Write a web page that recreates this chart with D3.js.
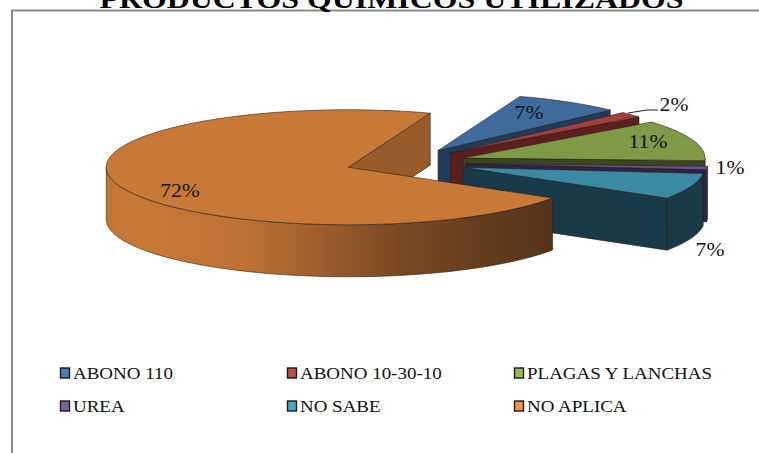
<!DOCTYPE html>
<html>
<head>
<meta charset="utf-8">
<script src="https://cdn.jsdelivr.net/npm/d3@7"></script>
<style>
  html, body { margin: 0; padding: 0; background: #fff; overflow: hidden; }
  text { font-family: "Liberation Serif", serif; fill: #111; }
</style>
</head>
<body>
<svg id="chart" width="759" height="453"></svg>
<script>
const categories = ["ABONO 110", "ABONO 10-30-10", "PLAGAS Y LANCHAS", "UREA", "NO SABE", "NO APLICA"];
const shares = [7.1, 1.6, 11.5, 1.0, 7.3, 71.5];
const shownLabels = ["7%", "2%", "11%", "1%", "7%", "72%"];
const topColors = ["#3f6b9c", "#a23f3c", "#7f9a46", "#69508f", "#3b8aa3", "#c87937"];
const sideColors = ["#1f3b5c", "#5c1f1f", "#3a4620", "#2e2245", "#193a48", "#9a5b2a"];
const legendColors = ["#4a7ebb", "#be4b48", "#98b954", "#7d60a0", "#46aac5", "#f59240"];

const svg = d3.select("#chart");

const centerX = 405.5;
const centerY = 162.6;
const depth = 52;
const explode = 0.25;
const firstAngle = (19.8 * Math.PI) / 180;

const xScale = d3.scaleLinear().domain([-1, 1]).range([-242, 242]);
const yScale = d3.scaleLinear().domain([-1, 1]).range([-57.5, 57.5]);

const slices = d3
  .pie()
  .sort(null)
  .startAngle(firstAngle)
  .endAngle(firstAngle + 2 * Math.PI)(shares);

// flat ellipse position for an angle, measured clockwise from the top
const rim = (a, k = 1) => [
  xScale(k * Math.sin(a)),
  yScale(-k * Math.cos(a)),
];

const line = d3.line();

function arcPoints(a0, a1, apex, drop = 0) {
  const n = Math.max(2, Math.ceil((a1 - a0) * 40));
  return d3.range(n + 1).map((i) => {
    const p = rim(a0 + ((a1 - a0) * i) / n);
    return [apex[0] + p[0], apex[1] + p[1] + drop];
  });
}

const defs = svg.append("defs");
const wallGradient = defs
  .append("linearGradient")
  .attr("id", "orange-wall")
  .attr("gradientUnits", "userSpaceOnUse")
  .attr("x1", 106)
  .attr("x2", 553)
  .attr("y1", 0)
  .attr("y2", 0);
[
  [0, "#c27434"],
  [0.06, "#c87937"],
  [0.32, "#bd7135"],
  [0.5, "#9a5b2b"],
  [0.66, "#784823"],
  [1, "#54331a"],
].forEach(([o, c]) => {
  wallGradient.append("stop").attr("offset", o).attr("stop-color", c);
});

const edge = "#2b2118";
const pieGroup = svg.append("g");

slices.forEach((d, i) => {
  const mid = (d.startAngle + d.endAngle) / 2;
  const shift = rim(mid, explode);
  const apex = [centerX + shift[0], centerY + shift[1]];
  const g = pieGroup.append("g").attr("class", "slice");

  // cut face on the closing side of the slice
  const endRim = arcPoints(d.endAngle, d.endAngle, apex)[0];
  g.append("path")
    .attr(
      "d",
      line([apex, endRim, [endRim[0], endRim[1] + depth], [apex[0], apex[1] + depth]]) + "Z"
    )
    .attr("fill", sideColors[i])
    .attr("stroke", edge)
    .attr("stroke-width", 0.6);

  // outer wall, only the part that faces the viewer
  const a0 = Math.max(d.startAngle, Math.PI / 2);
  const a1 = Math.min(d.endAngle, (3 * Math.PI) / 2);
  if (a1 > a0) {
    const upper = arcPoints(a0, a1, apex);
    const lower = arcPoints(a0, a1, apex, depth).reverse();
    g.append("path")
      .attr("d", line(upper.concat(lower)) + "Z")
      .attr("fill", i === 5 ? "url(#orange-wall)" : sideColors[i])
      .attr("stroke", edge)
      .attr("stroke-width", 0.6);
  }

  // top of the slice
  const top = [apex].concat(arcPoints(d.startAngle, d.endAngle, apex));
  g.append("path")
    .attr("d", line(top) + "Z")
    .attr("fill", topColors[i])
    .attr("stroke", edge)
    .attr("stroke-width", 0.6);
});

// frame, open at the right and the bottom as in the cropped original
svg
  .append("path")
  .attr("d", "M12,453V10.5H759")
  .attr("fill", "none")
  .attr("stroke", "#8c8c8c")
  .attr("stroke-width", 2);

// the original title is cut by the top of the picture
svg
  .append("text")
  .attr("x", 391.5)
  .attr("y", 8)
  .attr("text-anchor", "middle")
  .attr("font-size", 27)
  .attr("font-weight", "bold")
  .attr("textLength", 584)
  .attr("lengthAdjust", "spacingAndGlyphs")
  .style("fill", "#000")
  .text("PRODUCTOS QUÍMICOS UTILIZADOS");

// data labels, the source text is a little stretched sideways
const labelX = [529, 674, 648, 730, 710, 180];
const labelY = [119, 111, 148, 174, 256, 197];
svg
  .selectAll(".pct")
  .data(shownLabels)
  .join("text")
  .attr("class", "pct")
  .attr("transform", (d, i) => `translate(${labelX[i]},${labelY[i]}) scale(1.17,1)`)
  .attr("text-anchor", "middle")
  .attr("font-size", 18.5)
  .text((d) => d);

// leader for the 2% label
svg
  .append("path")
  .attr("d", "M628,113L647,110H658")
  .attr("fill", "none")
  .attr("stroke", "#222")
  .attr("stroke-width", 1);

// legend
const legendX = d3.scalePoint().domain([0, 1, 2]).range([60, 514]);
const legendY = d3.scalePoint().domain([0, 1]).range([373, 406]);
const legend = svg
  .selectAll(".legend-item")
  .data(categories)
  .join("g")
  .attr("class", "legend-item")
  .attr("transform", (d, i) => `translate(${legendX(i % 3)},${legendY(Math.floor(i / 3))})`);

legend
  .append("rect")
  .attr("x", 0.5)
  .attr("y", -5)
  .attr("width", 9)
  .attr("height", 10)
  .attr("fill", (d, i) => legendColors[i])
  .attr("stroke", "#1a1a1a")
  .attr("stroke-width", 1.4);

legend
  .append("text")
  .attr("transform", "translate(13,5.5) scale(1.15,1)")
  .attr("font-size", 16.5)
  .text((d) => d);
</script>
</body>
</html>
